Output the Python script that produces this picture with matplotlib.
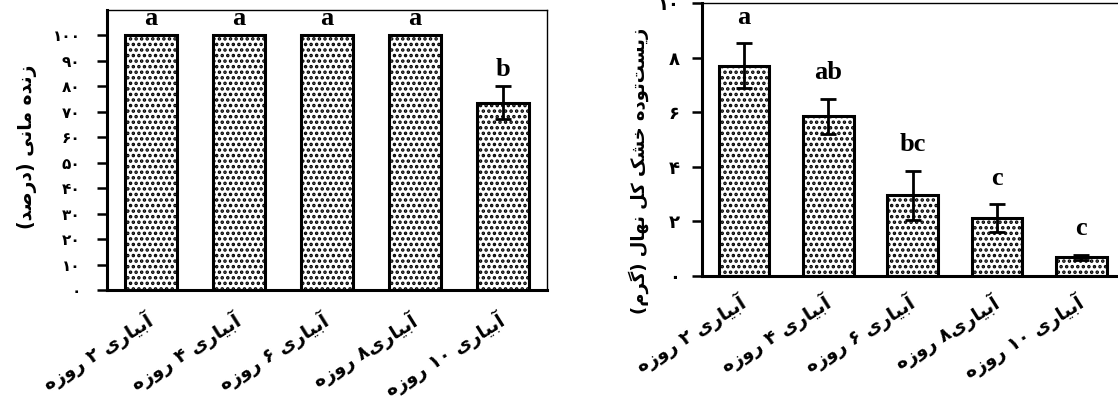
import matplotlib
matplotlib.use("Agg")
import matplotlib.pyplot as plt
import numpy as np

# ---------------- data ----------------
categories = ["آبیاری ۲ روزه", "آبیاری ۴ روزه", "آبیاری ۶ روزه", "آبیاری۸ روزه", "آبیاری ۱۰ روزه"]

survival = [100, 100, 100, 100, 73.5]
survival_err = [0, 0, 0, 0, 6.5]
survival_letters = ["a", "a", "a", "a", "b"]
survival_ticks = [0, 10, 20, 30, 40, 50, 60, 70, 80, 90, 100]

biomass = [7.7, 5.85, 2.95, 2.12, 0.68]
biomass_err = [0.83, 0.65, 0.9, 0.5, 0.1]
biomass_letters = ["a", "ab", "bc", "c", "c"]
biomass_ticks = [0, 2, 4, 6, 8, 10]

ylabel_left = "زنده مانی (درصد)"
ylabel_right = "زیست‌توده خشک کل نهال (گرم)"

# ---------------- simple Persian shaping / bidi ----------------
# (isolated, final, initial, medial)
FORMS = {
    'ا': ('\uFE8D', '\uFE8E', None, None),
    'آ': ('\uFE81', '\uFE82', None, None),
    'ب': ('\uFE8F', '\uFE90', '\uFE91', '\uFE92'),
    'پ': ('\uFB56', '\uFB57', '\uFB58', '\uFB59'),
    'ت': ('\uFE95', '\uFE96', '\uFE97', '\uFE98'),
    'ث': ('\uFE99', '\uFE9A', '\uFE9B', '\uFE9C'),
    'ج': ('\uFE9D', '\uFE9E', '\uFE9F', '\uFEA0'),
    'چ': ('\uFB7A', '\uFB7B', '\uFB7C', '\uFB7D'),
    'ح': ('\uFEA1', '\uFEA2', '\uFEA3', '\uFEA4'),
    'خ': ('\uFEA5', '\uFEA6', '\uFEA7', '\uFEA8'),
    'د': ('\uFEA9', '\uFEAA', None, None),
    'ذ': ('\uFEAB', '\uFEAC', None, None),
    'ر': ('\uFEAD', '\uFEAE', None, None),
    'ز': ('\uFEAF', '\uFEB0', None, None),
    'ژ': ('\uFB8A', '\uFB8B', None, None),
    'س': ('\uFEB1', '\uFEB2', '\uFEB3', '\uFEB4'),
    'ش': ('\uFEB5', '\uFEB6', '\uFEB7', '\uFEB8'),
    'ص': ('\uFEB9', '\uFEBA', '\uFEBB', '\uFEBC'),
    'ض': ('\uFEBD', '\uFEBE', '\uFEBF', '\uFEC0'),
    'ط': ('\uFEC1', '\uFEC2', '\uFEC3', '\uFEC4'),
    'ظ': ('\uFEC5', '\uFEC6', '\uFEC7', '\uFEC8'),
    'ع': ('\uFEC9', '\uFECA', '\uFECB', '\uFECC'),
    'غ': ('\uFECD', '\uFECE', '\uFECF', '\uFED0'),
    'ف': ('\uFED1', '\uFED2', '\uFED3', '\uFED4'),
    'ق': ('\uFED5', '\uFED6', '\uFED7', '\uFED8'),
    'ک': ('\uFB8E', '\uFB8F', '\uFB90', '\uFB91'),
    'گ': ('\uFB92', '\uFB93', '\uFB94', '\uFB95'),
    'ل': ('\uFEDD', '\uFEDE', '\uFEDF', '\uFEE0'),
    'م': ('\uFEE1', '\uFEE2', '\uFEE3', '\uFEE4'),
    'ن': ('\uFEE5', '\uFEE6', '\uFEE7', '\uFEE8'),
    'ه': ('\uFEE9', '\uFEEA', '\uFEEB', '\uFEEC'),
    'و': ('\uFEED', '\uFEEE', None, None),
    'ی': ('\uFBFC', '\uFBFD', '\uFBFE', '\uFBFF'),
}
FA_DIGITS = "۰۱۲۳۴۵۶۷۸۹"


def shape(text):
    chars = list(text)
    out = []
    for i, c in enumerate(chars):
        if c not in FORMS:
            out.append(c)
            continue
        prev = chars[i - 1] if i > 0 else None
        nxt = chars[i + 1] if i + 1 < len(chars) else None
        cp = prev in FORMS and FORMS[prev][2] is not None
        cn = FORMS[c][2] is not None and nxt in FORMS
        iso, fin, ini, med = FORMS[c]
        if cp and cn:
            out.append(med)
        elif cp:
            out.append(fin)
        elif cn:
            out.append(ini)
        else:
            out.append(iso)
    return [ch for ch in out if ch != '\u200c']


def fa(text):
    shaped = shape(text)
    tokens = []
    for ch in shaped:
        if ch in FA_DIGITS and tokens and all(t in FA_DIGITS for t in tokens[-1]):
            tokens[-1] += ch
        else:
            tokens.append(ch)
    tokens.reverse()
    mirror = {'(': ')', ')': '('}
    return "".join(mirror.get(t, t) for t in tokens)


def fa_num(n):
    return "".join(FA_DIGITS[int(d)] for d in str(n))


# ---------------- figure ----------------
plt.rcParams['font.family'] = ['DejaVu Sans']
plt.rcParams['hatch.linewidth'] = 1.7

W, H = 1118, 405
fig = plt.figure(figsize=(W / 100, H / 100), dpi=100)
fig.patch.set_facecolor("white")

ax1 = fig.add_axes([107 / W, 1 - 290 / H, 440 / W, 280 / H])
ax2 = fig.add_axes([702 / W, 1 - 276 / H, 421.5 / W, 273 / H])

x = np.arange(len(categories))
persian_font = dict(family='DejaVu Sans', weight='bold')


def style_axes(ax, ticks, ylim, tick_fs, ytpad, ylab, ylab_fs, lab_xy, letters, vals, errs, pad_letter, xfs, xpad):
    ax.bar(x, vals, width=0.6, color='white', edgecolor='black', linewidth=2.2,
           hatch='...', zorder=2)
    ax.errorbar(x, vals, yerr=errs, fmt='none', ecolor='black', elinewidth=2.0,
                capsize=6, capthick=2.0, zorder=3)
    for xi, v, e, lt in zip(x, vals, errs, letters):
        ax.text(xi, v + e + pad_letter, lt, ha='center', va='center',
                family='Liberation Serif', weight='bold', fontsize=19)
    ax.set_xlim(-0.5, len(categories) - 0.5)
    ax.set_ylim(*ylim)
    ax.set_yticks(ticks)
    ax.set_yticklabels([fa_num(t) for t in ticks], fontsize=tick_fs, **persian_font)
    ax.set_xticks(x)
    ax.set_xticklabels([fa(c) for c in categories], rotation=32, ha='right',
                       rotation_mode='anchor', va='center', fontsize=xfs, **persian_font)
    ax.tick_params(axis='x', length=0, pad=xpad)
    ax.tick_params(axis='y', direction='out', length=7, width=1.8, pad=ytpad)
    for s in ['left', 'bottom']:
        ax.spines[s].set_linewidth(2.2)
    for s in ['top', 'right']:
        ax.spines[s].set_linewidth(1.0)
    ax.set_ylabel(fa(ylab), fontsize=ylab_fs, **persian_font)
    ax.yaxis.set_label_coords(*lab_xy)


style_axes(ax1, survival_ticks, (0, 110), 11, 12, ylabel_left, 13.5, (-0.158, 0.51),
           survival_letters, survival, survival_err, 6.5, 13.5, 21)
style_axes(ax2, biomass_ticks, (0, 10), 13, 9, ylabel_right, 13, (-0.126, 0.385),
           biomass_letters, biomass, biomass_err, 0.95, 13.5, 18)

fig.savefig("out.png", dpi=100, facecolor="white")
